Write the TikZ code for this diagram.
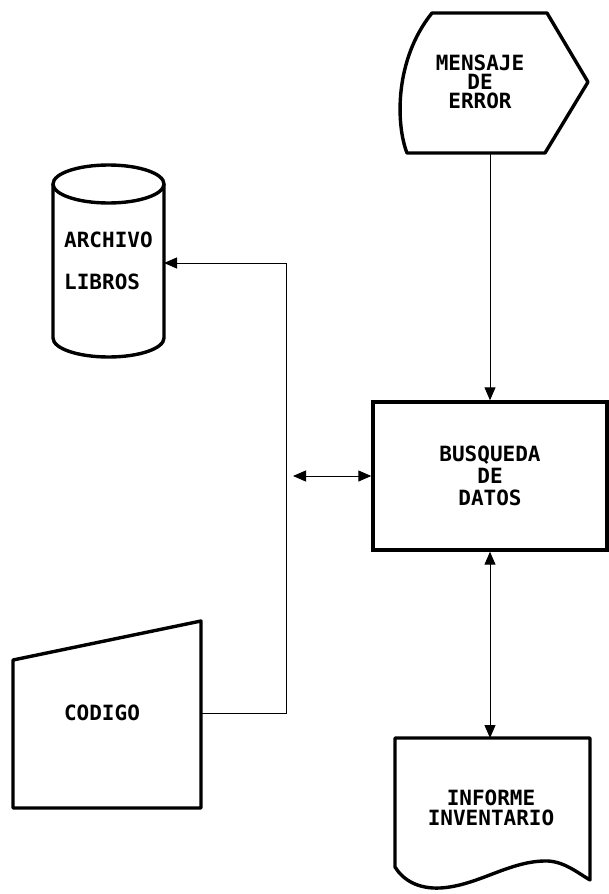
\documentclass[tikz,border=0pt]{standalone}
\usepackage{fontspec}
\setmonofont{DejaVu Sans Mono}
\usetikzlibrary{arrows.meta}
\begin{document}
\begin{tikzpicture}[x=1pt,y=-1pt,
  shp/.style={line width=3.4pt, line join=round},
  conn/.style={line width=1pt},
  tip/.style={-{Triangle[length=13pt,width=11pt]}},
  tips/.style={{Triangle[length=13pt,width=11pt]}-{Triangle[length=13pt,width=11pt]}},
  lbl/.style={align=center, inner sep=0pt},
  f19/.style={font=\ttfamily\bfseries\fontsize{21}{19}\selectfont},
  f20/.style={font=\ttfamily\bfseries\fontsize{21}{20}\selectfont},
  f22/.style={font=\ttfamily\bfseries\fontsize{21}{22}\selectfont},
  f42/.style={font=\ttfamily\bfseries\fontsize{21}{42}\selectfont}]
\useasboundingbox (0,0) rectangle (609,894);

% Mensaje de error (display)
\draw[shp] (432,13) -- (547,13) -- (588,82) -- (545,153) -- (407,153)
  .. controls (396,125) and (394,60) .. (432,13) -- cycle;
\node[lbl,f19] (msg) at (480,82) {MENSAJE\\DE\\ERROR};
\coordinate (msgbot) at (490,153);

% Busqueda de datos
\node[lbl, f22, draw, line width=3.4pt, minimum width=234pt, minimum height=148pt]
  (busq) at (490,476) {BUSQUEDA\\DE\\DATOS};

% Informe inventario (document)
\draw[shp] (395,738) -- (590,738) -- (590,880)
  .. controls (578,873) and (565,862) .. (548,861)
  .. controls (510,860) and (478,886) .. (440,888)
  .. controls (418,889) and (403,880) .. (395,867) -- cycle;
\node[lbl,f20] (inf) at (491,808) {INFORME\\INVENTARIO};
\coordinate (inftop) at (490,738);

% Archivo libros (cylinder)
\draw[shp] (108.5,184) ellipse[x radius=55.5pt, y radius=19pt];
\draw[shp] (53,184) -- (53,338) arc[start angle=180, end angle=360, x radius=55.5pt, y radius=19pt] -- (164,184);
\node[lbl, f42, align=left, anchor=west] (arch) at (64,261) {ARCHIVO\\LIBROS};
\coordinate (cylr) at (164,263);

% Codigo (manual input)
\draw[shp] (13,660) -- (201,621) -- (201,808) -- (13,808) -- cycle;
\node[lbl,f20] (cod) at (102,713) {CODIGO};
\coordinate (codr) at (201,713);

% connectors
\coordinate (cx) at (286,0);
\coordinate (dl) at (293,476);
\draw[conn,tip] (msgbot) -- (busq.north);
\draw[conn,tips] (busq.south) -- (inftop);
\draw[conn,tips] (dl) -- (busq.west);
\draw[conn,tip] (codr) -- (codr -| cx) -- (cylr -| cx) -- (cylr);
\end{tikzpicture}
\end{document}
